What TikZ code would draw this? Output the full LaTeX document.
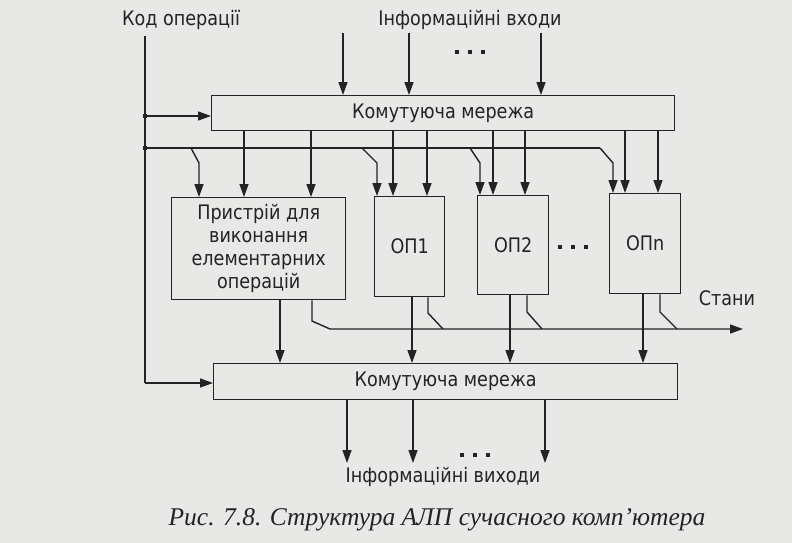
\documentclass[tikz,border=0pt]{standalone}
\usepackage{fontspec}
\setmainfont{DejaVu Sans}[FakeStretch=0.88]
\newfontfamily\capfont{Liberation Serif}
\usetikzlibrary{arrows.meta}
\definecolor{paper}{RGB}{232,232,230}
\definecolor{ink}{RGB}{35,35,35}
\tikzset{
  blk/.style={draw=ink, line width=1.4pt, inner sep=0pt, anchor=north west, align=center, text=ink},
  lbl/.style={inner sep=0pt, text=ink},
  wire/.style={draw=ink, line width=1.4pt},
  arr/.style={wire, -{Triangle[length=13pt,width=9pt]}},
  jdot/.style={fill=ink, draw=none, minimum size=4pt, inner sep=0pt, rectangle},
  dotsq/.style={fill=ink, draw=none, minimum size=4.5pt, inner sep=0pt, rectangle}
}
\newcommand{\tridots}[2]{%
  \node[dotsq] at (#1-13,#2) {};
  \node[dotsq] at (#1,#2) {};
  \node[dotsq] at (#1+13,#2) {};}
\begin{document}
\begin{tikzpicture}[x=1pt,y=-1pt, font=\fontsize{20}{23}\selectfont]
\useasboundingbox[fill=paper] (0,0) rectangle (792,543);

% labels
\node[lbl] (kod) at (181,20) {Код операції};
\node[lbl] (inf) at (470,20) {Інформаційні входи};
\tridots{470}{52}

% top switching network
\node[blk, minimum width=463pt, minimum height=35pt] (net1) at (211,95) {Комутуюча мережа};

% blocks
\node[blk, minimum width=174pt, minimum height=102pt] (dev) at (171,197) {Пристрій для\\виконання\\елементарних\\операцій};
\node[blk, minimum width=70pt, minimum height=100pt] (op1) at (374,196) {ОП1};
\node[blk, minimum width=71pt, minimum height=99pt] (op2) at (477,195) {ОП2};
\tridots{573}{247}
\node[blk, minimum width=71pt, minimum height=100pt] (opn) at (609,193) {ОПn};

% bottom switching network
\node[blk, minimum width=464pt, minimum height=36pt] (net2) at (213,363) {Комутуюча мережа};

\node[lbl] (stany) at (727,298) {Стани};
\tridots{475}{455}
\node[lbl] (outl) at (443,477) {Інформаційні виходи};

% caption
\node[lbl, font=\capfont\itshape\fontsize{25.5}{28}\selectfont] (cap) at (437,520) {Рис. 7.8. Структура АЛП сучасного комп’ютера};

% code line
\coordinate (k0) at (145,36);
\coordinate (j1) at (145,116);
\coordinate (j2) at (145,148);
\coordinate (k1) at (145,383);
\draw[wire] (k0) -- (k1);
\draw[arr] (k1) -- (k1 -| net2.west);
\draw[arr] (j1) -- (j1 -| net1.west);
\node[jdot] at (j1) {};
\node[jdot] at (j2) {};

% information inputs
\draw[arr] (343,33) -- (343,0 |- net1.north);
\draw[arr] (409,33) -- (409,0 |- net1.north);
\draw[arr] (541,33) -- (541,0 |- net1.north);

% code bus
\coordinate (b1) at (600,148);
\draw[wire] (j2) -- (b1);
\draw[arr] (b1) -- (613,163) -- (613,0 |- opn.north);
\draw[arr] (191,148) -- (199,163) -- (199,0 |- dev.north);
\draw[arr] (362,148) -- (377,163) -- (377,0 |- op1.north);
\draw[arr] (470,148) -- (480,163) -- (480,0 |- op2.north);

% from top network to blocks
\foreach \x/\b in {244/dev,311/dev,393/op1,427/op1,493/op2,525/op2,625/opn,658/opn}
  \draw[arr] (\x,0 |- net1.south) -- (\x,0 |- \b.north);

% from blocks to bottom network
\foreach \x/\b in {280/dev,412/op1,510/op2,643/opn}
  \draw[arr] (\x,0 |- \b.south) -- (\x,0 |- net2.north);

% states bus
\coordinate (s0) at (330,329);
\coordinate (s1) at (743,329);
\draw[arr] (312,0 |- dev.south) -- (312,321) -- (s0) -- (s1);
\draw[wire] (428,0 |- op1.south) -- (428,313) -- (443,329);
\draw[wire] (527,0 |- op2.south) -- (527,312) -- (542,329);
\draw[wire] (660,0 |- opn.south) -- (660,312) -- (677,329);

% information outputs
\foreach \x in {347,413,545}
  \draw[arr] (\x,0 |- net2.south) -- (\x,463);
\end{tikzpicture}
\end{document}
